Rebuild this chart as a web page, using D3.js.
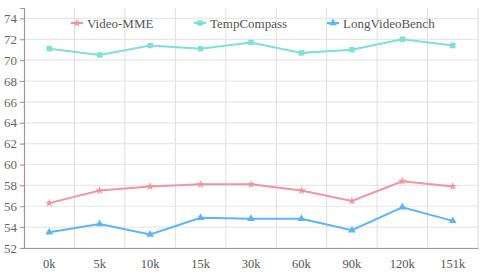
<!DOCTYPE html>
<html>
<head>
<meta charset="utf-8">
<script src="https://cdn.jsdelivr.net/npm/d3@7"></script>
<style>
  body { margin: 0; background: #fff; }
</style>
</head>
<body>
<div id="graph"></div>
<script>
const categories = ["0k", "5k", "10k", "15k", "30k", "60k", "90k", "120k", "151k"];
const videoMME = [56.3, 57.5, 57.9, 58.1, 58.1, 57.5, 56.5, 58.4, 57.9];
const tempCompass = [71.1, 70.5, 71.4, 71.1, 71.7, 70.7, 71.0, 72.0, 71.4];
const longVideoBench = [53.5, 54.3, 53.3, 54.9, 54.8, 54.8, 53.7, 55.9, 54.6];
const yTicks = [52, 54, 56, 58, 60, 62, 64, 66, 68, 70, 72, 74];

const seriesList = [
  { name: "Video-MME", values: videoMME, color: "#f1959f", symbol: d3.symbolStar, size: 22 },
  { name: "TempCompass", values: tempCompass, color: "#7ee0d6", symbol: d3.symbolSquare, size: 30 },
  { name: "LongVideoBench", values: longVideoBench, color: "#5fb4f7", symbol: d3.symbolTriangle, size: 26 }
];

const serif = "Liberation Serif";
const width = 488, height = 275;
const margin = { top: 8, right: 10, bottom: 27, left: 24 };

const svg = d3.select("#graph").append("svg")
  .attr("width", width).attr("height", height)
  .attr("font-family", serif);

const x = d3.scaleBand()
  .domain(categories)
  .range([margin.left, width - margin.right]);

const y = d3.scaleLinear()
  .domain([52, 75])
  .range([height - margin.bottom, margin.top]);

// horizontal gridlines
svg.append("g")
  .selectAll("line")
  .data(yTicks)
  .join("line")
  .attr("x1", margin.left - 4)
  .attr("x2", width - margin.right)
  .attr("y1", d => y(d)).attr("y2", d => y(d))
  .attr("stroke", "#e8e8e8")
  .attr("stroke-width", 1.2);

// vertical gridlines at band edges
svg.append("g")
  .selectAll("line")
  .data(categories.slice(1).concat(["end"]))
  .join("line")
  .attr("x1", d => d === "end" ? width - margin.right : x(d))
  .attr("x2", d => d === "end" ? width - margin.right : x(d))
  .attr("y1", margin.top)
  .attr("y2", height - margin.bottom)
  .attr("stroke", d => d === "end" ? "#ebebeb" : "#dedede")
  .attr("stroke-width", d => d === "end" ? 2 : 1);

// y axis
const yAxis = svg.append("g")
  .attr("transform", "translate(" + margin.left + ",0)")
  .call(d3.axisLeft(y).tickValues(yTicks).tickSize(4).tickPadding(3));
yAxis.attr("font-family", serif).attr("font-size", 13);
yAxis.select(".domain").attr("stroke", "#999").attr("stroke-width", 1.2);
yAxis.selectAll(".tick line").attr("stroke", "#999");
yAxis.selectAll("text").attr("fill", "#666");

// x axis
const xAxis = svg.append("g")
  .attr("transform", "translate(0," + (height - margin.bottom) + ")")
  .call(d3.axisBottom(x).tickSize(0).tickPadding(11));
xAxis.attr("font-family", serif).attr("font-size", 12.5);
xAxis.select(".domain").attr("stroke", "#999").attr("stroke-width", 1.2);
xAxis.selectAll("text").attr("fill", "#555");

const line = d3.line()
  .x((d, i) => x(categories[i]) + x.bandwidth() / 2)
  .y(d => y(d));

seriesList.forEach(s => {
  svg.append("path")
    .datum(s.values)
    .attr("fill", "none")
    .attr("stroke", s.color)
    .attr("stroke-width", 2)
    .attr("d", line);

  svg.append("g")
    .selectAll("path")
    .data(s.values)
    .join("path")
    .attr("transform", (d, i) => "translate(" + (x(categories[i]) + x.bandwidth() / 2) + "," + y(d) + ")")
    .attr("d", d3.symbol().type(s.symbol).size(s.size))
    .attr("fill", s.color);
});

// legend
const legendX = [77, 200, 333];
const legend = svg.append("g").attr("font-family", serif).attr("font-size", 13);
seriesList.forEach((s, i) => {
  const g = legend.append("g").attr("transform", "translate(" + legendX[i] + ",23)");
  g.append("line")
    .attr("x1", -6).attr("x2", 6)
    .attr("stroke", s.color).attr("stroke-width", 2);
  g.append("path")
    .attr("d", d3.symbol().type(s.symbol).size(s.size))
    .attr("fill", s.color);
  g.append("text")
    .attr("x", 10)
    .attr("y", 4.5)
    .attr("fill", "#555")
    .text(s.name);
});
</script>
</body>
</html>
